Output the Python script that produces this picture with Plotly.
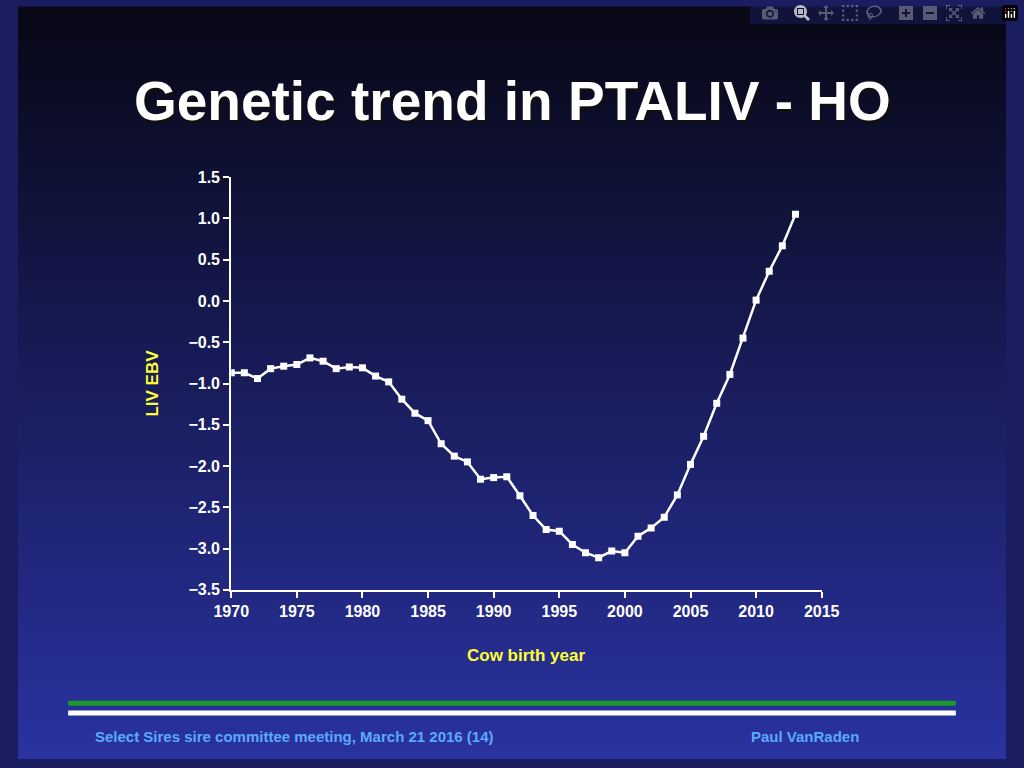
import plotly.graph_objects as go

years = list(range(1970, 2014))
liv_ebv = [-0.87, -0.87, -0.94, -0.82, -0.79, -0.77, -0.69, -0.73, -0.82, -0.80,
           -0.81, -0.91, -0.98, -1.19, -1.36, -1.45, -1.73, -1.88, -1.95, -2.16,
           -2.14, -2.13, -2.36, -2.60, -2.77, -2.79, -2.95, -3.05, -3.11, -3.03,
           -3.05, -2.85, -2.75, -2.62, -2.35, -1.98, -1.64, -1.24, -0.89, -0.45,
           0.01, 0.36, 0.67, 1.05]

W, H = 1024, 768
FONT = "Liberation Sans, Arial, sans-serif"

fig = go.Figure(go.Scatter(
    x=years, y=liv_ebv, mode="lines+markers",
    line=dict(color="white", width=2.5),
    marker=dict(symbol="square", size=7, color="white"),
    showlegend=False))

# vertical background gradient: near-black top to blue bottom
shapes = []
n = 60
top, bot = (8, 8, 22), (42, 50, 160)
for i in range(n):
    t = i / (n - 1)
    c = tuple(int(top[k] + (bot[k] - top[k]) * t) for k in range(3))
    shapes.append(dict(type="rect", xref="paper", yref="paper", layer="below",
                       x0=0, x1=1, y0=1 - (i + 1) / n, y1=1 - i / n + 0.002,
                       fillcolor=f"rgb{c}", line=dict(width=0)))
# footer rules
shapes.append(dict(type="line", xref="paper", yref="paper", x0=52 / W, x1=972 / W,
                   y0=1 - 711 / H, y1=1 - 711 / H, line=dict(color="#1a9a2a", width=5)))
shapes.append(dict(type="line", xref="paper", yref="paper", x0=52 / W, x1=972 / W,
                   y0=1 - 721 / H, y1=1 - 721 / H, line=dict(color="white", width=5)))

ann = [
    dict(text="<b>Genetic trend in PTALIV - HO</b>", x=515 / W, y=1 - 98 / H,
         font=dict(size=55, color="#101010", family=FONT)),
    dict(text="<b>Genetic trend in PTALIV - HO</b>", x=512 / W, y=1 - 95 / H,
         font=dict(size=55, color="white", family=FONT)),
    dict(text="<b>Cow birth year</b>", x=526 / W, y=1 - 662 / H,
         font=dict(size=17, color="#ffff33", family=FONT)),
    dict(text="<b>LIV EBV</b>", x=139 / W, y=1 - 384 / H, textangle=-90,
         font=dict(size=17, color="#ffff33", family=FONT)),
    dict(text="<b>Select Sires sire committee meeting, March 21 2016 (14)</b>", x=287 / W,
         y=1 - 745 / H, font=dict(size=15, color="#5aa9ff", family=FONT)),
    dict(text="<b>Paul VanRaden</b>", x=816 / W, y=1 - 745 / H,
         font=dict(size=15, color="#5aa9ff", family=FONT)),
]
for a in ann:
    a.update(xref="paper", yref="paper", showarrow=False, xanchor="center", yanchor="middle")

axis_common = dict(showgrid=False, zeroline=False, showline=True, linecolor="white",
                   linewidth=2, ticks="outside", tickcolor="white", ticklen=6, tickwidth=2,
                   tickfont=dict(size=16, color="white", family=FONT),
                   tickprefix="<b>", ticksuffix="</b>")
fig.update_xaxes(range=[1970, 2015], dtick=5, domain=[221 / W, 833 / W],
                 tickformat="d", **axis_common)
fig.update_yaxes(range=[-3.5, 1.5], dtick=0.5, domain=[1 - 595 / H, 1 - 173 / H],
                 tickformat=".1f", **axis_common)
fig.update_layout(width=W, height=H, margin=dict(l=0, r=0, t=0, b=0),
                  paper_bgcolor="#1a1e60", plot_bgcolor="rgba(0,0,0,0)",
                  shapes=shapes, annotations=ann,
                  font=dict(family=FONT, color="white"))
fig.write_html("out.html",
               post_script="document.body.style.margin='0';document.body.style.overflow='hidden';")
